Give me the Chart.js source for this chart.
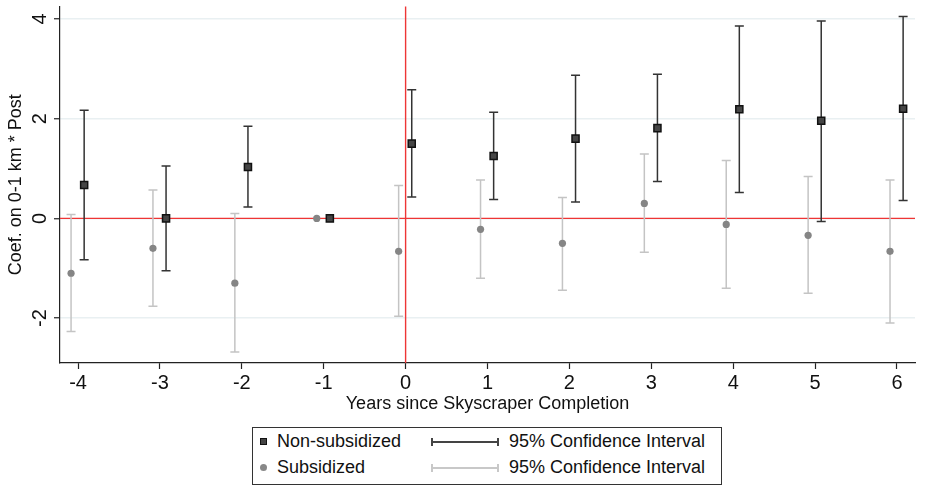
<!DOCTYPE html>
<html>
<head>
  <title>Event study</title>
  <script src="https://cdn.jsdelivr.net/npm/chart.js"></script>
  <style>
    body { margin: 0; background: #fff; font-family: "Liberation Sans", Arial, sans-serif; }
    #wrap { position: relative; width: 931px; height: 489px; }
    #legend { position: absolute; left: 252px; top: 427px; width: 468px; height: 56px;
              border: 1px solid #333; font-size: 18px; color: #111; }
    .item { position: absolute; white-space: nowrap; line-height: 20px; }
    .sq { position: absolute; width: 5px; height: 5px; background: #444; border: 1px solid #111; }
    .dot { position: absolute; width: 7px; height: 7px; border-radius: 50%; background: #888; }
    .ci { position: absolute; height: 0; }
    .cap { position: absolute; top: -5px; width: 0; height: 8px; }
  </style>
</head>
<body>
<div id="wrap">
  <canvas id="myChart" width="931" height="420"></canvas>
  <div id="legend">
    <div class="sq" style="left:7px;top:10px"></div>
    <div class="item" style="left:24px;top:3px">Non-subsidized</div>
    <div class="ci" style="left:178px;top:13px;width:68px;border-top:2px solid #444">
      <div class="cap" style="left:0;border-left:2px solid #444"></div>
      <div class="cap" style="right:0;border-left:2px solid #444"></div></div>
    <div class="item" style="left:256px;top:3px">95% Confidence Interval</div>
    <div class="dot" style="left:7px;top:36px"></div>
    <div class="item" style="left:24px;top:29px">Subsidized</div>
    <div class="ci" style="left:178px;top:39px;width:68px;border-top:2px solid #c8c8c8">
      <div class="cap" style="left:0;border-left:2px solid #c8c8c8"></div>
      <div class="cap" style="right:0;border-left:2px solid #c8c8c8"></div></div>
    <div class="item" style="left:256px;top:29px">95% Confidence Interval</div>
  </div>
</div>

<script>
  // years relative to completion
  const years = [-4, -3, -2, -1, 0, 1, 2, 3, 4, 5, 6];

  const nonSubCoef = [0.67, 0.00, 1.03, 0, 1.50, 1.25, 1.60, 1.81, 2.19, 1.96, 2.20];
  const nonSubLo   = [-0.83, -1.05, 0.23, null, 0.43, 0.38, 0.33, 0.74, 0.52, -0.06, 0.36];
  const nonSubHi   = [2.17, 1.05, 1.85, null, 2.58, 2.13, 2.87, 2.89, 3.86, 3.96, 4.05];

  const subCoef = [-1.10, -0.60, -1.30, 0, -0.66, -0.22, -0.50, 0.30, -0.12, -0.34, -0.66];
  const subLo   = [-2.27, -1.76, -2.68, null, -1.96, -1.20, -1.44, -0.68, -1.40, -1.50, -2.10];
  const subHi   = [0.08, 0.57, 0.10, null, 0.66, 0.77, 0.42, 1.29, 1.16, 0.84, 0.77];

  const xTicks = [-4, -3, -2, -1, 0, 1, 2, 3, 4, 5, 6];
  const yTicks = [-2, 0, 2, 4];

  const dodgeNon = 0.075, dodgeSub = -0.085;
  const fontFam = '"Liberation Sans", Arial, sans-serif';

  const nonPts = years.map((y, i) => ({ x: y + dodgeNon, y: nonSubCoef[i], lo: nonSubLo[i], hi: nonSubHi[i] }));
  const subPts = years.map((y, i) => ({ x: y + dodgeSub, y: subCoef[i], lo: subLo[i], hi: subHi[i] }));

  // red reference lines + error bars, under the markers
  const extras = {
    id: 'extras',
    beforeDatasetsDraw(chart) {
      const { ctx, chartArea: a, scales: { x, y } } = chart;
      ctx.save();
      ctx.strokeStyle = '#ee3535';
      ctx.lineWidth = 1.4;
      ctx.beginPath();
      ctx.moveTo(a.left, y.getPixelForValue(0));
      ctx.lineTo(a.right, y.getPixelForValue(0));
      ctx.moveTo(x.getPixelForValue(0), a.top);
      ctx.lineTo(x.getPixelForValue(0), a.bottom);
      ctx.stroke();

      chart.data.datasets.forEach(ds => {
        ctx.strokeStyle = ds.ciColor;
        ctx.lineWidth = 1.5;
        ds.data.forEach(p => {
          if (p.lo == null) return;
          const px = x.getPixelForValue(p.x);
          const y1 = y.getPixelForValue(p.lo), y2 = y.getPixelForValue(p.hi);
          ctx.beginPath();
          ctx.moveTo(px, y1); ctx.lineTo(px, y2);
          ctx.moveTo(px - 4.5, y1); ctx.lineTo(px + 4.5, y1);
          ctx.moveTo(px - 4.5, y2); ctx.lineTo(px + 4.5, y2);
          ctx.stroke();
        });
      });
      ctx.restore();
    },
    afterDraw(chart) {
      // rotated y tick labels
      const { ctx, scales: { y } } = chart;
      ctx.save();
      ctx.fillStyle = '#111';
      ctx.font = '20px ' + fontFam;
      ctx.textAlign = 'center';
      ctx.textBaseline = 'middle';
      yTicks.forEach(v => {
        ctx.save();
        ctx.translate(y.right - 20, y.getPixelForValue(v));
        ctx.rotate(-Math.PI / 2);
        ctx.fillText(String(v), 0, 0);
        ctx.restore();
      });
      ctx.restore();
    }
  };

  const ctx = document.getElementById('myChart').getContext('2d');
  const myChart = new Chart(ctx, {
    type: 'scatter',
    data: {
      datasets: [{
        label: 'Subsidized',
        data: subPts,
        ciColor: '#c4c4c4',
        pointStyle: 'circle',
        pointRadius: 3.6,
        backgroundColor: '#858585',
        borderColor: '#858585',
        borderWidth: 0
      }, {
        label: 'Non-subsidized',
        data: nonPts,
        ciColor: '#333333',
        pointStyle: 'rect',
        pointRadius: 5,
        backgroundColor: '#454545',
        borderColor: '#111111',
        borderWidth: 1.5
      }]
    },
    options: {
      responsive: false,
      animation: false,
      layout: { padding: { top: 4, right: 16, left: 0, bottom: 0 } },
      plugins: { legend: { display: false }, tooltip: { enabled: false } },
      scales: {
        x: {
          type: 'linear',
          min: -4.22, max: 6.22,
          afterBuildTicks: s => { s.ticks = xTicks.map(v => ({ value: v })); },
          afterFit: s => { s.height = 57; },
          grid: { drawOnChartArea: false, tickLength: 6, tickColor: '#222', tickWidth: 1.2 },
          border: { color: '#222', width: 1.2 },
          ticks: { color: '#111', font: { family: fontFam, size: 20 }, padding: 2, maxRotation: 0 },
          title: { display: true, text: 'Years since Skyscraper Completion', color: '#111',
                   font: { family: fontFam, size: 18 }, padding: { top: 0, bottom: 5 } }
        },
        y: {
          min: -2.9, max: 4.25,
          afterBuildTicks: s => { s.ticks = yTicks.map(v => ({ value: v })); },
          afterFit: s => { s.width = 60; },
          grid: { color: '#e9f0f2', lineWidth: 1.5, tickLength: 6, tickColor: '#222', tickWidth: 1.2 },
          border: { color: '#222', width: 1.2 },
          ticks: { display: false },
          title: { display: true, text: 'Coef. on 0-1 km * Post', color: '#111',
                   font: { family: fontFam, size: 18 }, padding: { top: 5, bottom: 0 } }
        }
      }
    },
    plugins: [extras]
  });
</script>
</body>
</html>
